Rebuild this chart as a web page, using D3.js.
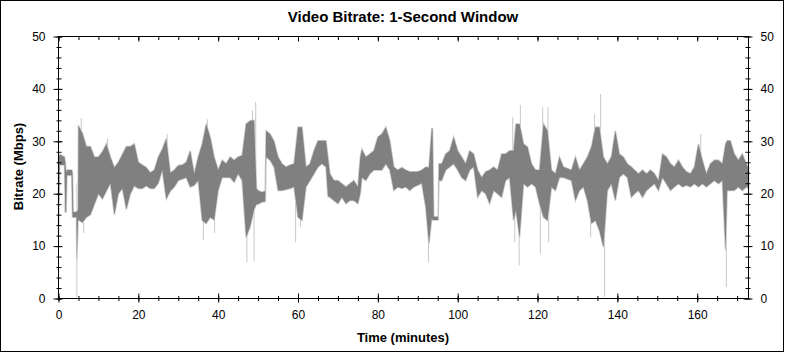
<!DOCTYPE html>
<html>
<head>
<meta charset="utf-8">
<script src="https://cdn.jsdelivr.net/npm/d3@7"></script>
<style>
  body { margin: 0; background: #fff; }
  svg { display: block; font-family: "Liberation Sans", Arial, sans-serif; }
</style>
</head>
<body>
<svg width="785" height="353"></svg>
<script>
// bitrate envelope (Mbps), per minute-ish
const times = [0, 0.3, 1.5, 1.7, 1.9, 2.1, 3.3, 3.5, 3.7, 4.5, 4.6, 4.9,
  5, 6, 7, 8, 9, 10, 11, 12, 13, 14, 15, 16, 17, 18, 19, 20, 21, 22, 23, 24, 25, 26, 27,
  28, 29, 30, 31, 32, 33, 34, 35, 36, 37, 38, 39, 40, 41, 42, 43, 44, 45, 46, 47, 48, 49,
  49.6, 50, 51, 51.8, 52, 53, 54, 55, 56, 57, 58, 59, 60, 61, 62, 63, 64, 65, 66, 67,
  67.5, 68, 69, 70, 71, 72, 73, 74, 75, 75.6, 76, 77, 78, 79, 80, 81, 82, 83, 84, 85,
  86, 87, 88, 89, 90, 91, 92, 92.8, 93.5, 93.7, 94, 95.1, 95.3, 96, 97, 98, 99, 100,
  101, 102, 103, 104, 105, 106, 107, 108, 109, 110, 111, 112, 113, 114, 114.6, 115.5,
  116.5, 117.5, 118.5, 119.5, 120.5, 121.5, 122.5, 123.5, 124.5, 125.5, 126.5, 127.5,
  128.5, 129.5, 130.5, 131.5, 132.5, 133.5, 134.5, 135.5, 136.5, 137.5, 138.5, 139.5,
  140.5, 141.5, 142.5, 143.5, 144.3, 145.3, 146.3, 147.3, 148.3, 149.3, 150.3, 151.3,
  152.3, 153.3, 154.3, 155.3, 156.3, 157.3, 158.3, 159.3, 160.3, 161.3, 162.3, 163.3,
  164.3, 165.3, 166.3, 167.1, 167.5, 168.3, 169.3, 170.3, 171.3, 172.3, 172.85]
const lows = [12, 25.5, 25.5, 16.5, 16.5, 23.5, 23.5, 15.5, 15.5, 15.5, 7.5, 15,
  15, 14.5, 15.5, 16, 18, 20, 19, 20.5, 22, 16, 20, 21, 17, 20, 21.5, 21, 21, 21.5, 21, 21, 22, 24.5, 19,
  20.5, 21.3, 22.5, 22.8, 23.1, 21.3, 21.6, 22.5, 14.9, 14.3, 15.5, 15, 20.6, 23.1, 23.1, 23.1, 22.2, 23.8, 22.5, 11.7, 13.7, 17,
  18, 18, 18.4, 18.5, 27, 26.4, 25.1, 20.6, 20.6, 20.8, 21, 21.3, 15.5, 14.9, 21.3, 22.5, 23.8, 25.1, 25.7, 25.1,
  19.5, 19.3, 18.7, 18.1, 19.3, 18.1, 18.7, 18.7, 18.1, 20, 23.1, 22.5, 23.8, 24.5, 24.5, 24.5, 25.7, 24.5, 20.6, 21.3,
  21, 21.3, 20.6, 21.3, 21.6, 22, 17.4, 10.4, 15.3, 15, 15, 15, 22.5, 22.5, 24.5, 25.1, 25.7, 24.5,
  23.1, 22.5, 24.5, 25.1, 19.3, 20.6, 20, 18.1, 20.6, 20, 19.3, 22.5, 23.1, 14.9, 16.8, 11.7,
  21.9, 21.3, 21.9, 21.3, 18.1, 15.5, 14.9, 21.3, 20.6, 23.1, 23.1, 22.8,
  22.5, 18.7, 20.6, 21.3, 18.7, 14.3, 14.9, 13, 9.8, 20.6, 21.9, 18.7,
  23.1, 23.8, 23.1, 19.3, 20, 20.6, 19.3, 20.6, 21.3, 21.9, 20.6, 23.1,
  21.9, 20.6, 21.3, 21.9, 21.3, 21.6, 21.3, 21.9, 21.3, 21.9, 21.3, 21.9,
  22.5, 21.9, 22.5, 9.2, 20.6, 20.6, 20.6, 21.3, 20.6, 21.3, 21]
const highs = [27, 27.5, 27, 26, 24, 24.5, 24.5, 24, 16.5, 16.5, 16.5, 17,
  33, 31.5, 29, 29, 27, 27, 28, 29.5, 27, 25, 26, 27.5, 29, 29, 29.5, 26, 25.5, 25, 24, 24.5, 27, 28.5, 30.5,
  24, 24.5, 25.4, 25.5, 26, 28.2, 23.8, 27, 29.5, 33.3, 30.8, 27, 24.5, 26.4, 25.7, 27, 26.4, 27, 27.3, 33.3, 33.9, 34,
  21, 20.6, 20.3, 20.5, 32, 31.4, 30, 27, 25.7, 25.1, 25.5, 25.7, 32.7, 32.7, 25.1, 25.7, 28.2, 30.1, 30.1, 30.1,
  27, 23.8, 22.5, 22.5, 21.9, 21.3, 21.9, 22.5, 21.3, 27, 28.5, 27, 27.6, 28.2, 30.8, 31.4, 32.7, 30.1, 25.1, 24.5,
  25, 24.5, 24.2, 24.2, 24.2, 24.5, 25.1, 25, 32.4, 32.4, 15.6, 15.6, 25.7, 25.7, 27.6, 28.2, 30.8, 28.2,
  27, 25.7, 28.2, 27.6, 24.5, 23.1, 24.2, 24.5, 25.1, 24.5, 27.6, 27.6, 28.2, 28.2, 33.3, 33.3,
  29.5, 28.9, 25.7, 24.5, 24.5, 33.3, 32, 24.5, 23.8, 27, 25.1, 24.8,
  24.5, 27, 24.5, 25.7, 27, 28.9, 32.7, 32.7, 27, 25.7, 27, 32,
  27.6, 27, 25.7, 25.1, 24.5, 23.8, 24.5, 23.8, 24.5, 23.8, 22.5, 27.6,
  27, 25.7, 25.1, 26.4, 25.1, 24.2, 23.8, 25.1, 29.5, 26.4, 23.8, 25.7,
  26.4, 26.4, 25.7, 29.5, 30.1, 30.1, 27.6, 26.4, 27.6, 25.7, 25]

// isolated one-second peaks and drops
const spikeTimes = [4.6, 5.7, 6.3, 12.3, 27.2, 36.3, 37.3, 39.1, 47.2, 48.6, 49.4, 49.0,
  59.4, 60.6, 92.7, 113.8, 114.3, 115.7, 115.4, 120.7, 121.3, 122.6, 122.8, 133.3,
  134.3, 135.8, 136.8, 160.9, 167.3]
const spikeValues = [0.3, 34.4, 12.5, 30.5, 31.4, 11.2, 34.2, 12.5, 6.9, 35.9, 37.5, 7.2,
  10.7, 13.6, 6.9, 34.6, 10.7, 36.9, 6.3, 8.5, 36.5, 36.5, 10.7, 11.7,
  35.2, 39, 0.3, 31.4, 2.2]

const xTicks = [0, 20, 40, 60, 80, 100, 120, 140, 160]
const yTicks = [0, 10, 20, 30, 40, 50]

const svg = d3.select('svg')

svg.append('rect')
    .attr('x', 0.5).attr('y', 0.5)
    .attr('width', 783).attr('height', 351)
    .attr('fill', '#fff').attr('stroke', '#000')

const x = d3.scaleLinear().domain([0, 172.85]).range([58.5, 748.5])
const y = d3.scaleLinear().domain([0, 50]).range([298.5, 36.5])

const band = times.map((t, i) => ({ t, lo: lows[i], hi: highs[i] }))
const spikes = spikeTimes.map((t, i) => ({ t, v: spikeValues[i] }))

// light spikes go under the dark band
svg.append('g')
    .selectAll('line')
    .data(spikes)
    .enter()
    .append('line')
    .attr('x1', d => x(d.t)).attr('x2', d => x(d.t))
    .attr('y1', y(22)).attr('y2', d => y(d.v))
    .attr('stroke', '#c8c8c8')
    .attr('stroke-width', 1)

const area = d3.area()
    .x(d => x(d.t))
    .y0(d => y(d.lo))
    .y1(d => y(d.hi))

svg.append('path')
    .datum(band)
    .attr('d', area)
    .attr('fill', '#808080')
    .attr('stroke', '#cfcfcf')
    .attr('stroke-width', 1.6)
    .style('paint-order', 'stroke')

// frame
svg.append('rect')
    .attr('x', 58.5).attr('y', 36.5)
    .attr('width', 690).attr('height', 262)
    .attr('fill', 'none').attr('stroke', '#000')

const minorX = d3.range(0, 173, 5)
const minorY = d3.range(0, 51, 2)

function cleanAxis(g) {
    g.select('.domain').remove()
    g.selectAll('line').attr('stroke', '#000')
    g.selectAll('text').attr('fill', '#000').style('font-size', '12px')
        .style('font-family', '"Liberation Sans", Arial, sans-serif')
}

// left
svg.append('g').attr('transform', 'translate(61.5,0)')
    .call(d3.axisLeft(y).tickValues(minorY).tickSize(5).tickFormat(''))
    .call(cleanAxis)
svg.append('g').attr('transform', 'translate(62.5,0)')
    .call(d3.axisLeft(y).tickValues(yTicks).tickSize(9).tickPadding(8))
    .call(cleanAxis)
// right
svg.append('g').attr('transform', 'translate(745.5,0)')
    .call(d3.axisRight(y).tickValues(minorY).tickSize(5).tickFormat(''))
    .call(cleanAxis)
svg.append('g').attr('transform', 'translate(743.5,0)')
    .call(d3.axisRight(y).tickValues(yTicks).tickSize(9).tickPadding(8))
    .call(cleanAxis)
// bottom
svg.append('g').attr('transform', 'translate(0,296)')
    .call(d3.axisBottom(x).tickValues(minorX).tickSize(5).tickFormat(''))
    .call(cleanAxis)
svg.append('g').attr('transform', 'translate(0,293.5)')
    .call(d3.axisBottom(x).tickValues(xTicks).tickSize(9).tickPadding(8))
    .call(cleanAxis)
// top
svg.append('g').attr('transform', 'translate(0,36.5)')
    .call(d3.axisBottom(x).tickValues(minorX).tickSize(3.5).tickFormat(''))
    .call(cleanAxis)
svg.append('g').attr('transform', 'translate(0,36.5)')
    .call(d3.axisBottom(x).tickValues(xTicks).tickSize(5).tickFormat(''))
    .call(cleanAxis)

svg.append('text')
    .attr('x', 403).attr('y', 22)
    .attr('text-anchor', 'middle')
    .style('font-size', '15px').style('font-weight', 'bold')
    .text('Video Bitrate: 1-Second Window')

svg.append('text')
    .attr('x', 403).attr('y', 341.5)
    .attr('text-anchor', 'middle')
    .style('font-size', '13px').style('font-weight', 'bold')
    .text('Time (minutes)')

svg.append('text')
    .attr('transform', 'translate(22.5,166.5) rotate(-90)')
    .attr('text-anchor', 'middle')
    .style('font-size', '13px').style('font-weight', 'bold')
    .text('Bitrate (Mbps)')
</script>
</body>
</html>
